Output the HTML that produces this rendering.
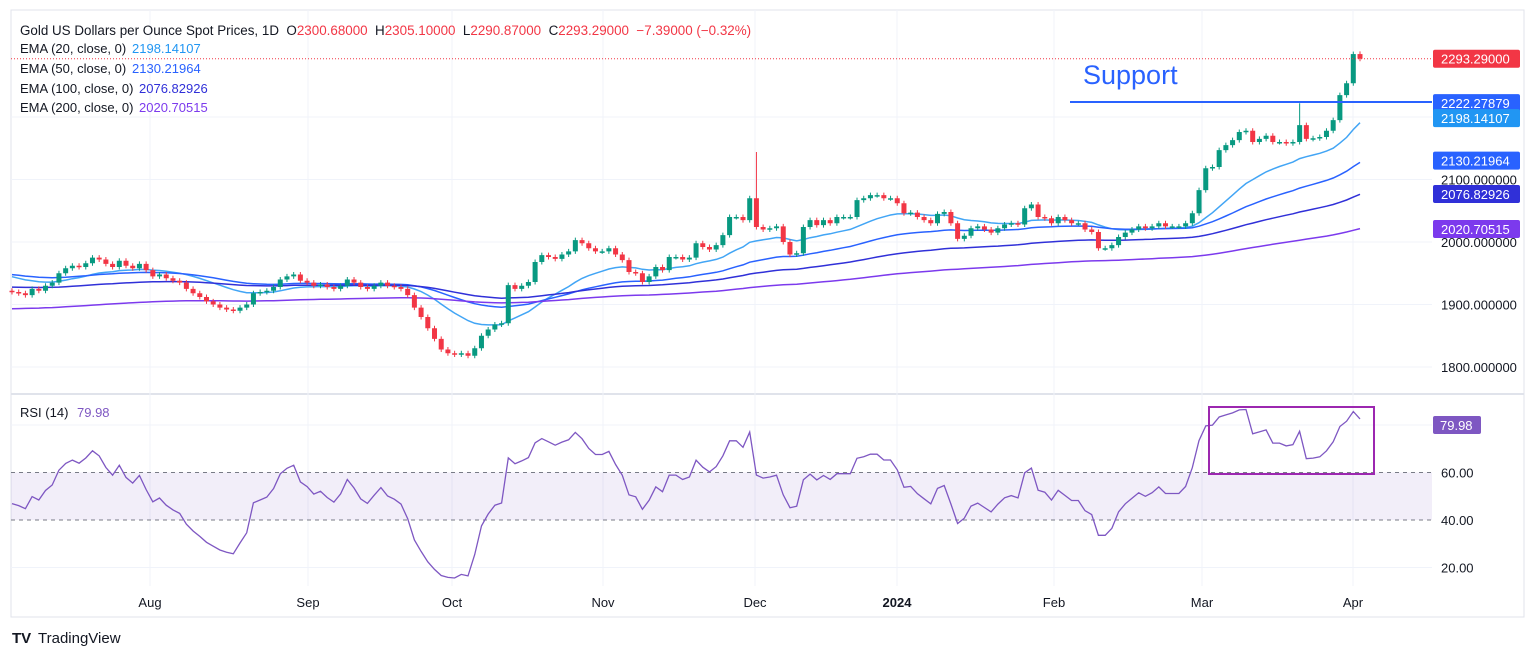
<!DOCTYPE html>
<html><head><meta charset="utf-8"><style>
body{margin:0;background:#fff;width:1536px;height:658px;overflow:hidden;font-family:"Liberation Sans",sans-serif}
svg text{font-family:"Liberation Sans",sans-serif}
</style></head><body>
<svg id="c" width="1536" height="658" xmlns="http://www.w3.org/2000/svg"></svg>
<script>
const closes=[1920,1918,1915,1925,1922,1930,1935,1950,1958,1962,1960,1966,1975,1972,1965,1960,1970,1962,1958,1965,
1955,1945,1948,1942,1938,1935,1925,1918,1912,1905,1900,1895,1892,1890,1895,1900,1918,1920,1922,1928,1940,1945,
1948,1938,1935,1930,1932,1928,1925,1930,1940,1935,1928,1925,1930,1935,1930,1928,1925,1915,
1895,1880,1862,1845,1828,1822,1820,1822,1818,1830,1850,1860,1868,1870,
1931,1925,1930,1936,1968,1979,1976,1973,1980,1985,2003,1998,1990,1985,1985,1990,1980,1971,1952,1950,
1936,1945,1960,1955,1976,1976,1972,1975,1998,1992,1988,1995,2011,2040,2040,2035,2070,2024,2020,2022,
2025,2000,1980,1982,2024,2035,2027,2035,2030,2040,2040,2040,2067,2070,2075,2075,2070,2070,
2062,2046,2047,2040,2035,2030,2045,2048,2030,2005,2010,2022,2025,2020,2015,2022,2028,2030,2028,2054,
2060,2040,2038,2030,2040,2035,2030,2030,2020,2016,1990,1990,1995,2008,2015,2020,2025,2022,2025,2030,
2025,2025,2025,2030,2046,2083,2118,2120,2147,2155,2163,2176,2178,2160,2165,2170,2160,2160,2158,2160,
2187,2165,2166,2168,2178,2195,2235,2254,2300.68,2293.29];
const firstOpen=1922;
const highOverrides={111:2144,192:2222,201:2305.1};
const emaPeriods=[20,50,100,200];
const emaSeeds=[1947,1949,1928,1893];
const emaColors=["#42a5f5","#2962ff","#3030d8","#7c3aed"];
const rsiSeedGain=4.2, rsiSeedLoss=4.6;
const priceTicks=[1800,1900,2000,2100];
const rsiTicks=[20,40,60];
const monthLabels=["Aug","Sep","Oct","Nov","Dec","2024","Feb","Mar","Apr"];
const monthX=[150,308,452,603,755,897,1054,1202,1353];

const S=document.getElementById('c');const NS="http://www.w3.org/2000/svg";
function el(t,a,p){const e=document.createElementNS(NS,t);for(const k in a)e.setAttribute(k,a[k]);(p||S).appendChild(e);return e;}
const N=closes.length,X0=12,X1=1360;
const xs=i=>X0+i*(X1-X0)/(N-1);
const py=p=>242-(p-2000)*0.625;
const ry=v=>520-(v-40)*2.375;

let f=el('rect',{x:11,y:10,width:1513,height:607,fill:'none',stroke:'#e0e3eb','stroke-width':1});

let sp=el('line',{x1:11,x2:1524,y1:394,y2:394,stroke:'#e0e3eb','stroke-width':2});

for(const t of priceTicks.concat([2200])){let g=el('line',{x1:11,x2:1432,y1:py(t),y2:py(t),stroke:'#f0f3fa'});}
for(const t of [20,80]){let g=el('line',{x1:11,x2:1432,y1:ry(t),y2:ry(t),stroke:'#f0f3fa'});}
monthX.forEach((x,i)=>{let g=el('line',{x1:x,x2:x,y1:10,y2:586,stroke:'#f0f3fa'});
 let t=el('text',{x:x,y:607,'text-anchor':'middle','font-size':13,fill:'#131722','font-weight':monthLabels[i]=='2024'?'bold':'normal'});t.textContent=monthLabels[i];});
priceTicks.forEach(t=>{let e=el('text',{x:1441,y:py(t)+5,'font-size':13,fill:'#131722'});e.textContent=t.toFixed(6);});
let band=el('rect',{x:11,y:ry(60),width:1421,height:ry(40)-ry(60),fill:'#7e57c2','fill-opacity':0.1});
for(const v of [60,40]){let l=el('line',{x1:11,x2:1432,y1:ry(v),y2:ry(v),stroke:'#787b86','stroke-dasharray':'4 4'});}
rsiTicks.forEach(t=>{let e=el('text',{x:1441,y:ry(t)+5,'font-size':13,fill:'#131722'});e.textContent=t.toFixed(2);});
emaPeriods.forEach((p,k)=>{const a=2/(p+1);let e=emaSeeds[k];const pts=[];closes.forEach((c,i)=>{e=e+a*(c-e);pts.push(xs(i).toFixed(1)+','+py(e).toFixed(1));});
 let pl=el('polyline',{points:pts.join(' '),fill:'none',stroke:emaColors[k],'stroke-width':1.5});});
closes.forEach((c,i)=>{const o=i?closes[i-1]:firstOpen;const up=c>=o;const col=up?'#089981':'#f23645';
 const hi=highOverrides[i]||Math.max(o,c)+4;const lo=Math.min(o,c)-4;const x=xs(i);
 const g=el('g',{});
 el('line',{x1:x,x2:x,y1:py(hi),y2:py(lo),stroke:col,'stroke-width':1},g);
 const t=Math.min(py(o),py(c)),h=Math.max(1.5,Math.abs(py(o)-py(c)));
 el('rect',{x:x-2.5,y:t,width:5,height:h,fill:col},g);});
const rsi=[];let ag=rsiSeedGain,al=rsiSeedLoss;
for(let i=0;i<N;i++){const d=closes[i]-(i?closes[i-1]:firstOpen);const g=Math.max(d,0),l=Math.max(-d,0);
 ag=(ag*13+g)/14;al=(al*13+l)/14;
 rsi.push([i,al==0?100:100-100/(1+ag/al)]);}
let rp=el('polyline',{points:rsi.map(r=>xs(r[0]).toFixed(1)+','+ry(r[1]).toFixed(1)).join(' '),fill:'none',stroke:'#7e57c2','stroke-width':1.3});
let su=el('line',{x1:1070,x2:1432,y1:102,y2:102,stroke:'#2962ff','stroke-width':2});
let st=el('text',{x:1083,y:84,'font-size':27,fill:'#2962ff'});st.textContent='Support';
let bx=el('rect',{x:1209,y:407,width:165,height:67,fill:'none',stroke:'#9c27b0','stroke-width':2});
let cl=el('line',{x1:11,x2:1432,y1:py(2293.29),y2:py(2293.29),stroke:'#f23645','stroke-dasharray':'1 2'});
const badges=[[2293.29,'2293.29000','#f23645'],[2222.27879,'2222.27879','#2962ff'],[2198.14107,'2198.14107','#2196f3'],[2130.21964,'2130.21964','#2962ff'],[2076.82926,'2076.82926','#3030d8'],[2020.70515,'2020.70515','#7c3aed']];
badges.forEach(b=>{const y=py(b[0]);const g=el('g',{});
 el('rect',{x:1433,y:y-9,width:87,height:18,rx:2,fill:b[2]},g);
 const t=el('text',{x:1441,y:y+5,'font-size':13,fill:'#fff'},g);t.textContent=b[1];});
{const g=el('g',{});
 el('rect',{x:1433,y:ry(79.98)-9,width:48,height:18,rx:2,fill:'#7e57c2'},g);
 const t=el('text',{x:1440,y:ry(79.98)+5,'font-size':13,fill:'#fff'},g);t.textContent='79.98';}
function txt(x,y,s,col,name){const t=el('text',{x:x,y:y,'font-size':13,fill:col});t.textContent=s;return t;}
const tt=el('text',{x:20,y:35,'font-size':13.4,fill:'#131722'});
tt.style.whiteSpace='pre';
tt.innerHTML='Gold US Dollars per Ounce Spot Prices, 1D  O<tspan fill="#f23645">2300.68000</tspan>  H<tspan fill="#f23645">2305.10000</tspan>  L<tspan fill="#f23645">2290.87000</tspan>  C<tspan fill="#f23645">2293.29000  −7.39000 (−0.32%)</tspan>';
const leg=[['EMA (20, close, 0)','2198.14107','#2196f3',53],['EMA (50, close, 0)','2130.21964','#2962ff',73],['EMA (100, close, 0)','2076.82926','#3030d8',93],['EMA (200, close, 0)','2020.70515','#7c3aed',112]];
leg.forEach(l=>{txt(20,l[3],l[0],'#131722','ema-legend-label');txt(l[0].length>18?139:132,l[3],l[1],l[2],'ema-legend-value');});
txt(20,417,'RSI (14)','#131722','rsi-legend-label');txt(77,417,'79.98','#7e57c2','rsi-legend-value');
const lg=el('text',{x:38,y:643,'font-size':15,fill:'#131722'});lg.textContent='TradingView';
const li=el('text',{x:12,y:643,'font-size':15,'font-weight':'bold',fill:'#131722'});li.textContent='TV';
</script>
</body></html>
